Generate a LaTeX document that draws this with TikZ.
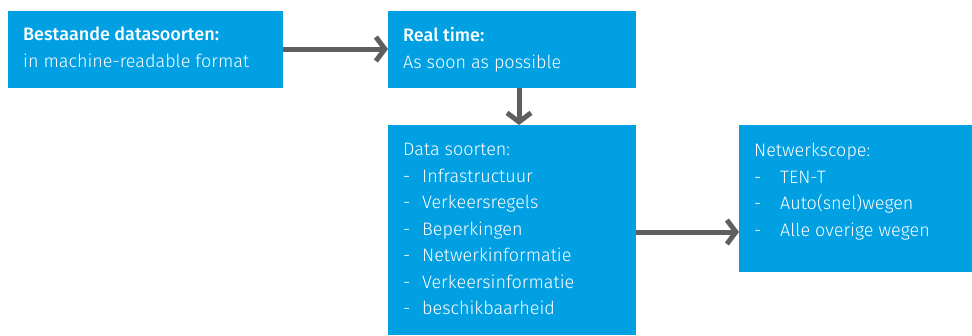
\documentclass[tikz,border=0pt]{standalone}
\usepackage{fontspec}
\setmainfont{Fira Sans}[UprightFont=* Light, BoldFont=* Medium]
\usetikzlibrary{arrows.meta}
\definecolor{boxblue}{RGB}{0,160,227}
\definecolor{arrowgray}{RGB}{95,95,95}
\tikzset{
  box/.style={fill=boxblue, draw=none, anchor=north west, inner sep=0pt},
  lbl/.style={anchor=north west, inner sep=0pt, text=white, align=left, font=\fontsize{18}{26.5}\selectfont},
  conn/.style={draw=arrowgray, line width=5pt, -{Straight Barb[length=9pt, width=24pt, line width=5pt]}}
}
\newcommand{\itemA}[1]{\makebox[19pt][l]{-}#1}
\newcommand{\itemB}[1]{\makebox[26pt][l]{-}#1}
\begin{document}
\begin{tikzpicture}[x=1pt, y=-1pt]
\useasboundingbox (0,0) rectangle (972,335);
\node[box, minimum width=275pt, minimum height=77pt] (b1) at (8,11) {};
\node[box, minimum width=248pt, minimum height=77pt] (b2) at (388,11) {};
\node[box, minimum width=248pt, minimum height=210pt] (b3) at (388,125) {};
\node[box, minimum width=233pt, minimum height=147pt] (b4) at (739,125) {};
\node[lbl] (t1) at (23,27) {\textbf{Bestaande datasoorten:}\\in machine-readable format};
\node[lbl] (t2) at (403,27) {\textbf{Real time:}\\As soon as possible};
\node[lbl] (t3) at (403,143) {Data soorten:\\\itemA{Infrastructuur}\\\itemA{Verkeersregels}\\\itemA{Beperkingen}\\\itemA{Netwerkinformatie}\\\itemA{Verkeersinformatie}\\\itemA{beschikbaarheid}};
\node[lbl] (t4) at (754,143) {Netwerkscope:\\\itemB{TEN-T}\\\itemB{Auto(snel)wegen}\\\itemB{Alle overige wegen}};
\draw[conn] (b1.east |- 0,49) -- (b2.west |- 0,49);
\draw[conn] (b2.south -| 519,0) -- (b3.north -| 519,0);
\draw[conn] (b3.east |- 0,232) -- (b4.west |- 0,232);
\end{tikzpicture}
\end{document}
